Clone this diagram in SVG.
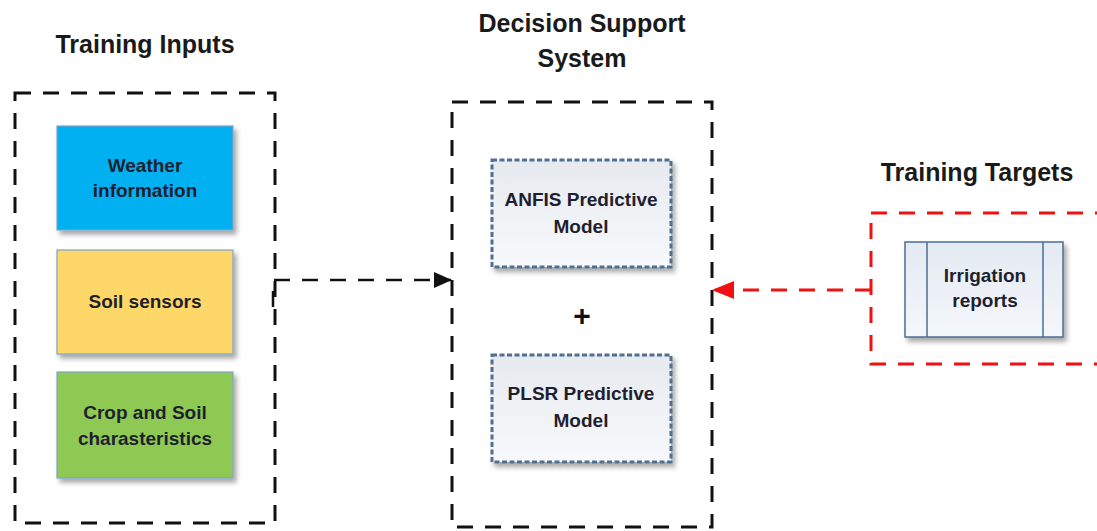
<svg xmlns="http://www.w3.org/2000/svg" width="1097" height="531" viewBox="0 0 1097 531">
<style>
.title{font-family:"Liberation Sans",Arial,sans-serif;font-weight:bold;font-size:25px;fill:#1a1a1a;text-anchor:middle}
.lbl{font-family:"Liberation Sans",Arial,sans-serif;font-weight:bold;font-size:19px;fill:#1f1f2f;text-anchor:middle}
.group{fill:none;stroke:#111;stroke-width:3;stroke-dasharray:16,12}
.redgroup{fill:none;stroke:#f01010;stroke-width:3;stroke-dasharray:16,12}
.input{stroke:#7fa3c8;stroke-width:1.2;filter:url(#sh)}
.model{fill:url(#mg);stroke:#4f6f8f;stroke-width:3;stroke-dasharray:5,2.5;filter:url(#sh)}
</style>
<defs>
<filter id="sh" x="-10%" y="-10%" width="125%" height="130%">
<feDropShadow dx="3" dy="4" stdDeviation="2.5" flood-color="#000" flood-opacity="0.35"/>
</filter>
<linearGradient id="mg" x1="0" y1="0" x2="0" y2="1">
<stop offset="0" stop-color="#e6e9ee"/>
<stop offset="1" stop-color="#f7f9fc"/>
</linearGradient>
<linearGradient id="ig" x1="0" y1="0" x2="0" y2="1">
<stop offset="0" stop-color="#e4eaf2"/>
<stop offset="1" stop-color="#f4f7fb"/>
</linearGradient>
<marker id="ab" markerWidth="18" markerHeight="16" refX="17" refY="8" orient="auto" markerUnits="userSpaceOnUse" viewBox="0 0 18 16">
<path d="M0,0 L18,8 L0,16 Z" fill="#111"/>
</marker>
<marker id="ar" markerWidth="22" markerHeight="18" refX="21" refY="9" orient="auto" markerUnits="userSpaceOnUse" viewBox="0 0 22 18">
<path d="M0,0 L22,9 L0,18 Z" fill="#f01010"/>
</marker>
</defs>
<rect width="1097" height="531" fill="#fff"/>

<text class="title" x="145" y="53">Training Inputs</text>
<text class="title" x="582" y="32">Decision Support</text>
<text class="title" x="582" y="67">System</text>
<text class="title" x="977" y="181">Training Targets</text>

<g id="training-inputs">
<rect class="group" x="15" y="93" width="260" height="430"/>
</g>
<g id="weather">
<rect class="input" x="57" y="126" width="176" height="104" fill="#00b0f0"/>
<text class="lbl" x="145" y="172">Weather</text>
<text class="lbl" x="145" y="197">information</text>
</g>
<g id="soil-sensors">
<rect class="input" x="57" y="250" width="176" height="104" fill="#fdd768"/>
<text class="lbl" x="145" y="308">Soil sensors</text>
</g>
<g id="crop-soil">
<rect class="input" x="57" y="372" width="176" height="106" fill="#8ec952"/>
<text class="lbl" x="145" y="419">Crop and Soil</text>
<text class="lbl" x="145" y="445">charasteristics</text>
</g>

<g id="dss">
<rect class="group" x="452" y="102" width="260" height="425"/>
</g>
<g id="anfis">
<rect class="model" x="492" y="160" width="179" height="107"/>
<text class="lbl" x="581" y="206">ANFIS Predictive</text>
<text class="lbl" x="581" y="233">Model</text>
</g>
<g id="plus">
<text x="582" y="326" style="font-family:'Liberation Sans',Arial,sans-serif;font-weight:bold;font-size:30px;fill:#111;text-anchor:middle">+</text>
</g>
<g id="plsr">
<rect class="model" x="492" y="355" width="179" height="107"/>
<text class="lbl" x="581" y="400">PLSR Predictive</text>
<text class="lbl" x="581" y="427">Model</text>
</g>

<g id="training-targets">
<rect class="redgroup" x="871" y="213" width="240" height="151"/>
</g>
<g id="irrigation">
<rect x="905" y="242" width="158" height="95" fill="url(#ig)" stroke="#4a6f95" stroke-width="1.5" filter="url(#sh)"/>
<line x1="927" y1="242" x2="927" y2="337" stroke="#4a6f95" stroke-width="1.5"/>
<line x1="1043" y1="242" x2="1043" y2="337" stroke="#4a6f95" stroke-width="1.5"/>
<text class="lbl" x="985" y="282">Irrigation</text>
<text class="lbl" x="985" y="307">reports</text>
</g>

<g id="connectors">
<path d="M273,307 L273,280 L451,280" fill="none" stroke="#111" stroke-width="2.5" stroke-dasharray="16,12" marker-end="url(#ab)"/>
<path d="M871,290 L713,290" fill="none" stroke="#f01010" stroke-width="3" stroke-dasharray="16,12" marker-end="url(#ar)"/>
</g>
</svg>
